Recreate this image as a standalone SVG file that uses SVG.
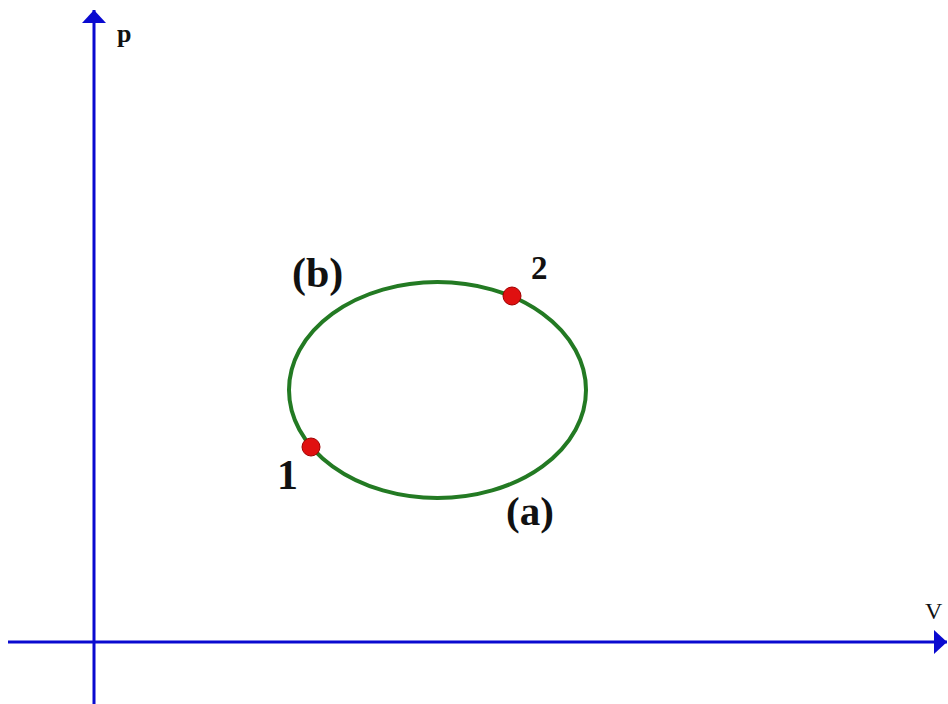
<svg xmlns="http://www.w3.org/2000/svg" width="948" height="704" viewBox="0 0 948 704">
<style>
.axis{stroke:#0a0ad0;stroke-width:3;fill:none}
.lbl{font-family:"Liberation Serif",serif;font-weight:bold;fill:#111}
.pt{fill:#e01010;stroke:#a00000;stroke-width:1}
</style>
<defs>
<marker id="ah" viewBox="0 0 13 24" refX="13" refY="12" markerWidth="13" markerHeight="24" orient="auto" markerUnits="userSpaceOnUse">
<path d="M0,0 L13,12 L0,24 Z" fill="#0a0ad0"/>
</marker>
</defs>
<rect width="948" height="704" fill="#fff"/>
<g id="connectors">
<line class="axis" x1="94" y1="704" x2="94" y2="10" marker-end="url(#ah)"/>
<line class="axis" x1="8" y1="642" x2="947" y2="642" marker-end="url(#ah)"/>
</g>
<g id="cycle">
<ellipse cx="437.5" cy="390" rx="148.5" ry="108" fill="none" stroke="#237a23" stroke-width="4"/>
</g>
<g id="point1"><circle class="pt" cx="311" cy="447" r="9"/><text class="lbl" x="277" y="489" font-size="42">1</text></g>
<g id="point2"><circle class="pt" cx="512" cy="296" r="9"/><text class="lbl" x="531" y="279" font-size="33">2</text></g>
<g id="label-b"><text class="lbl" x="292" y="287" font-size="42">(b)</text></g>
<g id="label-a"><text class="lbl" x="506" y="525" font-size="41">(a)</text></g>
<g id="label-p"><text class="lbl" x="117" y="42" font-size="26">p</text></g>
<g id="label-V"><text x="925" y="619" font-size="24" font-family="Liberation Serif,serif" fill="#111">V</text></g>
</svg>
